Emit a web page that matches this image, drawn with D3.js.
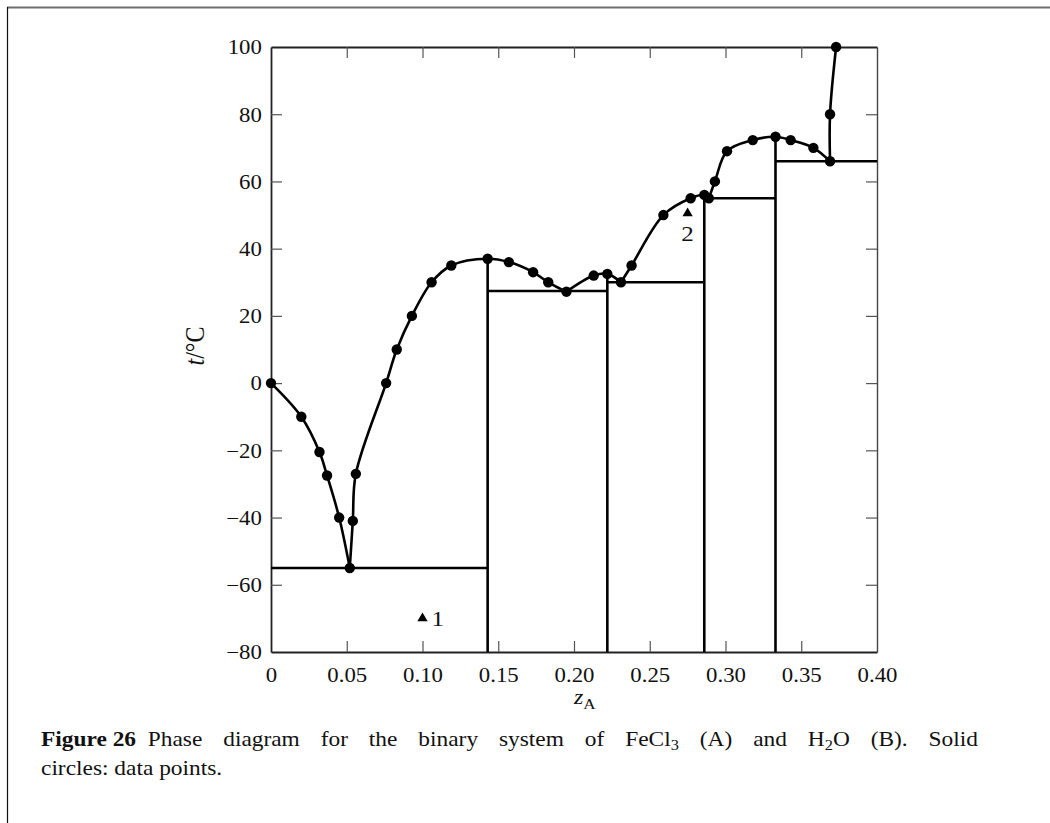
<!DOCTYPE html>
<html>
<head>
<meta charset="utf-8">
<script src="https://cdn.jsdelivr.net/npm/d3@7"></script>
<style>
  html, body { margin: 0; padding: 0; background: #fff; }
  svg { display: block; }
  text { font-family: "Liberation Serif", "DejaVu Serif", serif; fill: #111; }
</style>
</head>
<body>
<svg id="chart" width="1050" height="823"></svg>
<script>
// ---- Data ----
const xTicks = [0, 0.05, 0.10, 0.15, 0.20, 0.25, 0.30, 0.35, 0.40];
const xTickLabels = ["0", "0.05", "0.10", "0.15", "0.20", "0.25", "0.30", "0.35", "0.40"];
const yTicks = [-80, -60, -40, -20, 0, 20, 40, 60, 80, 100];
const yTickLabels = ["\u221280", "\u221260", "\u221240", "\u221220", "0", "20", "40", "60", "80", "100"];

// liquidus branches (each branch between invariant points)
const branch1 = [[0, 0], [0.020, -10], [0.032, -20.5], [0.037, -27.5], [0.045, -40], [0.052, -55]];
const branch2 = [[0.052, -55], [0.054, -41], [0.056, -27], [0.076, 0], [0.083, 10], [0.093, 20],
                 [0.106, 30], [0.119, 35], [0.143, 37], [0.157, 36], [0.173, 33], [0.183, 30], [0.195, 27.2]];
const branch3 = [[0.195, 27.2], [0.213, 32], [0.222, 32.5], [0.231, 30]];
const branch4 = [[0.231, 30], [0.238, 35], [0.259, 50], [0.277, 55], [0.286, 56], [0.289, 55]];
const branch5 = [[0.289, 55], [0.293, 60], [0.301, 69], [0.318, 72.3], [0.333, 73.3], [0.343, 72.3],
                 [0.358, 70], [0.369, 66]];
const branch6 = [[0.369, 66], [0.369, 80], [0.373, 100]];
const branches = [branch1, branch2, branch3, branch4, branch5, branch6];

// compounds: vertical lines (z, top temperature)
const compoundZ = [0.143, 0.222, 0.286, 0.333];
const compoundTop = [37, 32.5, 56, 73.3];

// horizontal tie lines (invariant temperatures)
const tieStart = [0, 0.143, 0.222, 0.286, 0.333];
const tieEnd = [0.143, 0.222, 0.286, 0.333, 0.40];
const tieT = [-55, 27.4, 30, 55, 66];

// labelled state points
const markZ = [0.100, 0.275];
const markT = [-70, 50.5];
const markLabels = ["1", "2"];

// ---- Layout ----
const svg = d3.select("#chart");
const pL = 271, pR = 877, pT = 47, pB = 652;
const stretch = 1.14;   // reference typeface is set slightly wide
const x = d3.scaleLinear().domain([0, 0.40]).range([pL, pR]);
const y = d3.scaleLinear().domain([-80, 100]).range([pB, pT]);

// figure border (top grey rule, left black rule)
svg.append("line").attr("x1", 7).attr("x2", 1050).attr("y1", 7.5).attr("y2", 7.5)
  .attr("stroke", "#6e6e6e").attr("stroke-width", 2);
svg.append("line").attr("x1", 7.5).attr("x2", 7.5).attr("y1", 7).attr("y2", 823)
  .attr("stroke", "#111").attr("stroke-width", 1.2);

// axes with inward ticks
const tickLen = 11;
const gBottom = svg.append("g").attr("transform", `translate(0,${pB})`)
  .call(d3.axisBottom(x).tickValues(xTicks).tickSizeInner(-tickLen).tickSizeOuter(0)
        .tickPadding(16).tickFormat((d, i) => xTickLabels[i]));
const gTop = svg.append("g").attr("transform", `translate(0,${pT})`)
  .call(d3.axisTop(x).tickValues(xTicks).tickSizeInner(-tickLen).tickSizeOuter(0).tickFormat(""));
const gLeft = svg.append("g").attr("transform", `translate(${pL},0)`)
  .call(d3.axisLeft(y).tickValues(yTicks).tickSizeInner(-tickLen).tickSizeOuter(0)
        .tickPadding(8).tickFormat((d, i) => yTickLabels[i]));
const gRight = svg.append("g").attr("transform", `translate(${pR},0)`)
  .call(d3.axisRight(y).tickValues(yTicks).tickSizeInner(-tickLen).tickSizeOuter(0).tickFormat(""));

[gBottom, gTop, gLeft, gRight].forEach(g => {
  g.select(".domain").attr("stroke", "#222").attr("stroke-width", 1.8);
  g.selectAll(".tick line").attr("stroke", "#555").attr("stroke-width", 1.2);
  g.selectAll(".tick text").attr("font-family", "Liberation Serif, serif")
    .attr("font-size", 20).attr("fill", "#111")
    .attr("transform", `scale(${stretch},1)`);
});
gRight.select(".domain").attr("stroke", "#444").attr("stroke-width", 1.4);
gTop.selectAll(".tick").filter(d => d === 0 || d === 0.40).remove();
gBottom.selectAll(".tick line").filter(d => d === 0 || d === 0.40).remove();
gRight.selectAll(".tick").filter(d => d === -80 || d === 100).remove();
gLeft.selectAll(".tick line").filter(d => d === -80 || d === 100).remove();
gLeft.selectAll(".tick text").attr("dy", "0.34em");

// axis titles
const yt = svg.append("text")
  .attr("transform", `translate(204,346) rotate(-90) scale(1,1.1)`)
  .attr("text-anchor", "middle").attr("font-size", 24);
yt.append("tspan").attr("font-style", "italic").text("t");
yt.append("tspan").text("/\u00B0C");

const xt = svg.append("text").attr("transform", `translate(574,704) scale(${stretch},1)`)
  .attr("font-size", 21);
xt.append("tspan").attr("font-style", "italic").text("z");
xt.append("tspan").attr("font-size", 15).attr("dy", 5).text("A");

// tie lines and compound verticals
const stroke = "#000", sw = 2.6;
svg.append("g").selectAll("line").data(tieT).join("line")
  .attr("x1", (d, i) => x(tieStart[i])).attr("x2", (d, i) => x(tieEnd[i]))
  .attr("y1", d => y(d)).attr("y2", d => y(d))
  .attr("stroke", stroke).attr("stroke-width", sw);
svg.append("g").selectAll("line").data(compoundZ).join("line")
  .attr("x1", d => x(d)).attr("x2", d => x(d))
  .attr("y1", (d, i) => y(compoundTop[i])).attr("y2", pB)
  .attr("stroke", stroke).attr("stroke-width", sw);

// liquidus curves
const line = d3.line().x(d => x(d[0])).y(d => y(d[1])).curve(d3.curveCatmullRom.alpha(0.5));
svg.append("g").selectAll("path").data(branches).join("path")
  .attr("d", line).attr("fill", "none").attr("stroke", stroke).attr("stroke-width", sw)
  .attr("stroke-linejoin", "round");

// data points
const allPts = [];
branches.forEach(b => b.forEach(p => {
  if (!allPts.some(q => q[0] === p[0] && q[1] === p[1])) allPts.push(p);
}));
svg.append("g").selectAll("circle").data(allPts).join("circle")
  .attr("cx", d => x(d[0])).attr("cy", d => y(d[1])).attr("r", 5.2).attr("fill", "#000");

// state point markers (triangles)
const tri = d3.symbol().type(d3.symbolTriangle).size(46);
svg.append("g").selectAll("path").data(markZ).join("path")
  .attr("d", tri).attr("transform", (d, i) => `translate(${x(d)},${y(markT[i])})`)
  .attr("fill", "#000");
svg.append("text").attr("transform", `translate(${x(markZ[0]) + 9},${y(markT[0]) + 8}) scale(${stretch},1)`)
  .attr("font-size", 22).text(markLabels[0]);
svg.append("text").attr("transform", `translate(${x(markZ[1])},${y(markT[1]) + 28}) scale(${stretch},1)`)
  .attr("text-anchor", "middle").attr("font-size", 22).text(markLabels[1]);

// caption
const capScale = 1.17;
const cap1 = svg.append("text").attr("transform", `translate(41,746) scale(${capScale},1)`)
  .attr("font-size", 20);
cap1.append("tspan").attr("font-weight", "bold").text("Figure");
cap1.append("tspan").attr("font-weight", "bold").attr("dx", 5).text("26");
cap1.append("tspan").text("\u2002Phase diagram for the binary system of FeCl");
cap1.append("tspan").attr("font-size", 14).attr("dy", 4).text("3");
cap1.append("tspan").attr("dy", -4).text(" (A) and H");
cap1.append("tspan").attr("font-size", 14).attr("dy", 4).text("2");
cap1.append("tspan").attr("dy", -4).text("O (B). Solid");
const capW = cap1.node().getComputedTextLength() + 5;
const capTarget = (978 - 41) / capScale;
const nSpaces = (cap1.node().textContent.match(/ /g) || []).length;
cap1.attr("word-spacing", Math.max(-2, (capTarget - capW) / nSpaces));

svg.append("text").attr("transform", `translate(41,775) scale(${capScale},1)`)
  .attr("font-size", 20).text("circles: data points.");
</script>
</body>
</html>
